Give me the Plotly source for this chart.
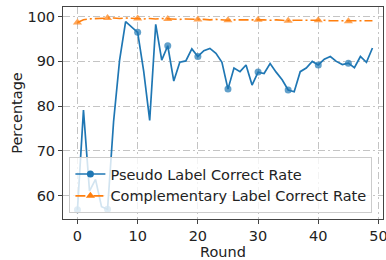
import plotly.graph_objects as go

rounds = list(range(50))
pseudo_rate = [
    56.8, 79.1, 61.0, 63.6, 57.5, 56.9, 76.5, 90.3, 98.9, 97.8,
    96.5, 87.8, 76.8, 98.3, 90.3, 93.5, 85.6, 89.8, 90.1, 92.8,
    91.1, 92.4, 92.9, 91.8, 89.8, 83.8, 88.5, 87.7, 89.2, 84.7,
    87.6, 87.3, 89.5, 87.6, 85.9, 83.6, 83.2, 87.7, 88.5, 90.0,
    89.2, 90.5, 91.1, 90.0, 89.3, 89.6, 88.6, 91.1, 89.8, 93.0,
]
comp_rate = [
    98.7, 99.3, 99.5, 99.6, 99.6, 99.7, 99.7, 99.6, 99.7, 99.6,
    99.6, 99.5, 99.6, 99.5, 99.6, 99.5, 99.5, 99.4, 99.5, 99.4,
    99.4, 99.4, 99.3, 99.4, 99.3, 99.2, 99.3, 99.3, 99.4, 99.3,
    99.3, 99.3, 99.2, 99.3, 99.2, 99.1, 99.2, 99.2, 99.3, 99.2,
    99.2, 99.2, 99.1, 99.1, 99.1, 99.0, 99.1, 99.1, 99.1, 99.1,
]
x_ticks = [0, 10, 20, 30, 40, 50]
y_ticks = [60, 70, 80, 90, 100]
names = ["Pseudo Label Correct Rate", "Complementary Label Correct Rate"]
mark_every = 5

BLUE = "#1f77b4"
ORANGE = "#ff7f0e"
DASHDOT = "10px,3px,2px,3px"
FS = 14.5

fig = go.Figure()

blue_sizes = [7 if i % mark_every == 0 else 0 for i in rounds]
orange_sizes = [8 if i % mark_every == 0 else 0 for i in rounds]

fig.add_trace(go.Scatter(
    x=rounds, y=pseudo_rate, mode="lines+markers", showlegend=False,
    line=dict(color=BLUE, width=1.7),
    marker=dict(color=BLUE, size=blue_sizes, symbol="circle", line=dict(width=0)),
))
fig.add_trace(go.Scatter(
    x=rounds, y=comp_rate, mode="lines+markers", showlegend=False,
    line=dict(color=ORANGE, width=1.6, dash=DASHDOT),
    marker=dict(color=ORANGE, size=orange_sizes, symbol="triangle-up", line=dict(width=0)),
))
# legend entries
fig.add_trace(go.Scatter(
    x=[None], y=[None], mode="lines+markers", name=names[0],
    line=dict(color=BLUE, width=1.7),
    marker=dict(color=BLUE, size=7, symbol="circle"),
))
fig.add_trace(go.Scatter(
    x=[None], y=[None], mode="lines+markers", name=names[1],
    line=dict(color=ORANGE, width=1.6, dash=DASHDOT),
    marker=dict(color=ORANGE, size=8, symbol="triangle-up"),
))

axis_common = dict(
    showline=True, linecolor="#444444", linewidth=1, mirror=True,
    ticks="outside", ticklen=4, tickcolor="#444444", tickwidth=1,
    showgrid=True, gridcolor="#c4c4c4", gridwidth=1, griddash="7px,3px,2px,3px",
    zeroline=False, tickfont=dict(size=FS, color="#222222"), automargin=False,
    ticklabeloverflow="allow",
)

fig.update_layout(
    width=386, height=260,
    margin=dict(l=63, r=3, t=7, b=41),
    paper_bgcolor="white", plot_bgcolor="white",
    font=dict(family="DejaVu Sans", size=FS, color="#222222"),
    xaxis=dict(range=[-2.4, 50.75], tickvals=x_ticks,
               title=dict(text="Round", font=dict(size=FS), standoff=0),
               **axis_common),
    yaxis=dict(range=[54.74, 102.17], tickvals=y_ticks,
               title=dict(text="Percentage", font=dict(size=FS), standoff=1),
               **axis_common),
    legend=dict(x=0.02, y=0.028, xanchor="left", yanchor="bottom",
                bgcolor="rgba(255,255,255,0.8)", bordercolor="#cccccc", borderwidth=1,
                font=dict(size=FS, color="#222222"), tracegroupgap=0,
                itemwidth=30),
)

fig.write_html(
    "out.html",
    config={"displayModeBar": False},
    post_script="document.body.style.margin='0';document.body.style.overflow='hidden';",
)
